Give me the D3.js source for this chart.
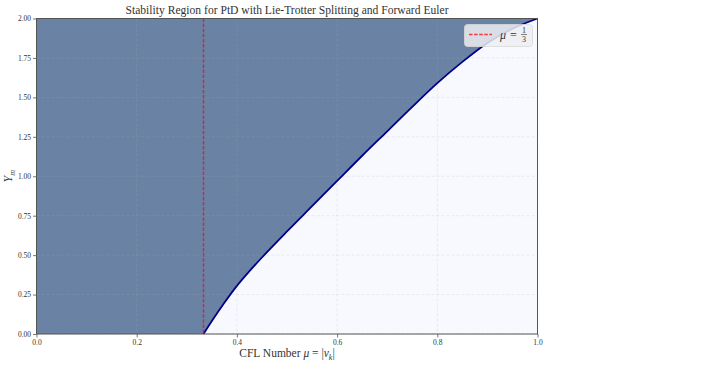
<!DOCTYPE html>
<html>
<head>
<meta charset="utf-8">
<script src="https://cdn.jsdelivr.net/npm/d3@7"></script>
<style>
  body { margin: 0; background: #fff; }
  text { font-family: "Liberation Serif", "DejaVu Serif", serif; fill: #333; }
</style>
</head>
<body>
<svg width="708" height="389"></svg>
<script>
// boundary of the stability region
const mu = [1/3, 0.35, 0.375, 0.40, 0.425, 0.45, 0.50, 0.55, 0.60, 0.65, 0.70, 0.75, 0.80, 0.85, 0.90, 0.95, 1.00];
const ym = [0.00, 0.082, 0.198, 0.305, 0.398, 0.485, 0.65, 0.81, 0.97, 1.13, 1.285, 1.44, 1.59, 1.725, 1.845, 1.935, 2.00];
const xTicks = [0.0, 0.2, 0.4, 0.6, 0.8, 1.0];
const yTicks = [0.00, 0.25, 0.50, 0.75, 1.00, 1.25, 1.50, 1.75, 2.00];
const muCrit = 1 / 3;

const svg = d3.select("svg");
const plotL = 36.5, plotR = 537.5, plotT = 18.5, plotB = 334;

const x = d3.scaleLinear().domain([0, 1]).range([plotL, plotR]);
const y = d3.scaleLinear().domain([0, 2]).range([plotB, plotT]);

const pts = mu.map((m, i) => [m, ym[i]]);

// plot background
svg.append("rect")
    .attr("x", plotL).attr("y", plotT)
    .attr("width", plotR - plotL).attr("height", plotB - plotT)
    .attr("fill", "#f8f9fe");

// shaded region: everything left of mu = 1/3 ...
const shade = "#6a82a3";
svg.append("rect")
    .attr("x", x(0)).attr("y", y(2))
    .attr("width", x(muCrit) - x(0) + 0.5).attr("height", y(0) - y(2))
    .attr("fill", shade);
// ... and above the boundary curve
svg.append("path")
    .datum(pts)
    .attr("d", d3.area().x(d => x(d[0])).y0(y(2)).y1(d => y(d[1])).curve(d3.curveMonotoneX))
    .attr("fill", shade);

// grid
const grid = svg.append("g");
grid.selectAll(".gx").data(xTicks).join("line")
    .attr("x1", d => x(d)).attr("x2", d => x(d))
    .attr("y1", plotT).attr("y2", plotB)
    .attr("stroke", "#b0b0b0").attr("stroke-opacity", 0.3)
    .attr("stroke-dasharray", "3,2").attr("stroke-width", 0.7);
grid.selectAll(".gy").data(yTicks).join("line")
    .attr("y1", d => y(d)).attr("y2", d => y(d))
    .attr("x1", plotL).attr("x2", plotR)
    .attr("stroke", "#b0b0b0").attr("stroke-opacity", 0.3)
    .attr("stroke-dasharray", "3,2").attr("stroke-width", 0.7);

// boundary curve
svg.append("path")
    .datum(pts)
    .attr("d", d3.line().x(d => x(d[0])).y(d => y(d[1])).curve(d3.curveMonotoneX))
    .attr("fill", "none")
    .attr("stroke", "#00008b")
    .attr("stroke-width", 1.8);

// mu = 1/3 line
svg.append("line")
    .attr("x1", x(muCrit)).attr("x2", x(muCrit))
    .attr("y1", plotT).attr("y2", plotB)
    .attr("stroke", "#e8102a").attr("stroke-opacity", 0.8)
    .attr("stroke-width", 1.4)
    .attr("stroke-dasharray", "3.5,1.6");

// frame
svg.append("rect")
    .attr("x", plotL).attr("y", plotT)
    .attr("width", plotR - plotL).attr("height", plotB - plotT)
    .attr("fill", "none").attr("stroke", "#555").attr("stroke-width", 1);

// axes
const xAxis = svg.append("g")
    .attr("transform", `translate(0,${plotB})`)
    .call(d3.axisBottom(x).tickValues(xTicks).tickFormat(d3.format(".1f")).tickSize(3.5).tickPadding(2));
const yAxis = svg.append("g")
    .attr("transform", `translate(${plotL},0)`)
    .call(d3.axisLeft(y).tickValues(yTicks).tickFormat(d3.format(".2f")).tickSize(3.5).tickPadding(2));
[xAxis, yAxis].forEach(a => {
    a.select(".domain").remove();
    a.selectAll(".tick line").attr("stroke", "#555").attr("stroke-width", 0.8);
    a.selectAll(".tick text").attr("font-family", "Liberation Serif, serif")
        .attr("font-size", 7.5).attr("fill", "#333");
});

// title
svg.append("text")
    .attr("x", (plotL + plotR) / 2).attr("y", 14)
    .attr("text-anchor", "middle")
    .attr("font-size", 12.5)
    .attr("textLength", 323).attr("lengthAdjust", "spacingAndGlyphs")
    .text("Stability Region for PtD with Lie-Trotter Splitting and Forward Euler");

// x label
const xl = svg.append("text")
    .attr("x", (plotL + plotR) / 2).attr("y", 357)
    .attr("text-anchor", "middle")
    .attr("font-size", 11.5);
xl.append("tspan").text("CFL Number ");
xl.append("tspan").attr("font-style", "italic").text("μ");
xl.append("tspan").text(" = |");
xl.append("tspan").attr("font-style", "italic").text("ν");
xl.append("tspan").attr("font-style", "italic").attr("font-size", 8).attr("dy", 2.5).text("k");
xl.append("tspan").attr("dy", -2.5).text("|");

// y label
const yl = svg.append("text")
    .attr("transform", `translate(12,${(plotT + plotB) / 2}) rotate(-90)`)
    .attr("text-anchor", "middle")
    .attr("font-size", 12);
yl.append("tspan").attr("font-style", "italic").text("Y");
yl.append("tspan").attr("font-style", "italic").attr("font-size", 8).attr("dy", 2.5).text("m");

// legend
const lg = svg.append("g");
lg.append("rect")
    .attr("x", 464.5).attr("y", 24.5).attr("width", 68).attr("height", 22)
    .attr("rx", 3)
    .attr("fill", "#eceef2").attr("fill-opacity", 0.85)
    .attr("stroke", "#d8d8d8").attr("stroke-width", 0.8);
lg.append("line")
    .attr("x1", 469).attr("x2", 492).attr("y1", 34.5).attr("y2", 34.5)
    .attr("stroke", "#ff1a1a").attr("stroke-opacity", 0.85)
    .attr("stroke-width", 1.4).attr("stroke-dasharray", "3.5,1.6");
lg.append("text").attr("x", 500).attr("y", 38.5).attr("font-size", 12)
    .attr("font-style", "italic").text("μ");
lg.append("text").attr("x", 510).attr("y", 38.5).attr("font-size", 12).text("=");
lg.append("text").attr("x", 524).attr("y", 32.5).attr("font-size", 8)
    .attr("text-anchor", "middle").text("1");
lg.append("line").attr("x1", 521).attr("x2", 527).attr("y1", 34.5).attr("y2", 34.5)
    .attr("stroke", "#333").attr("stroke-width", 0.6);
lg.append("text").attr("x", 524).attr("y", 42).attr("font-size", 8)
    .attr("text-anchor", "middle").text("3");
</script>
</body>
</html>
